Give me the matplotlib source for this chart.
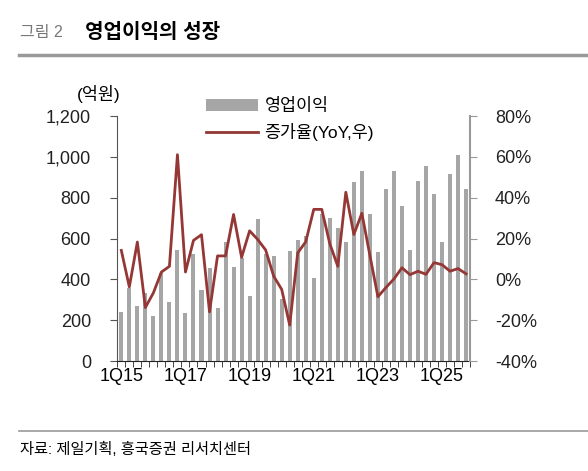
import numpy as np
import matplotlib.pyplot as plt

plt.rcParams['font.family'] = ['Liberation Sans', 'Noto Sans CJK KR', 'DejaVu Sans']

# quarterly data, 1Q15 - 4Q25
quarters = [f'{q}Q{y:02d}' for y in range(15, 26) for q in range(1, 5)]
op_profit = [240, 360, 270, 335, 223, 432, 288, 544, 233, 523, 350, 457,
             259, 581, 459, 503, 321, 694, 526, 514, 304, 537, 594, 611,
             409, 721, 702, 650, 584, 879, 931, 718, 532, 845, 933, 760,
             544, 881, 954, 820, 584, 918, 1008, 845]
yoy = [14.2, -3.7, 18.3, -13.8, -6.6, 3.6, 6.4, 61.1, 3.6, 19.1, 21.9, -15.9,
       11.5, 11.5, 31.8, 10.8, 23.8, 19.6, 14.4, 1.6, -4.9, -22.4, 13.0, 18.4,
       34.3, 34.3, 17.5, 6.4, 42.7, 22.0, 32.4, 11.8, -8.5, -4.0, 0.2, 5.7,
       2.3, 4.0, 2.5, 8.2, 7.2, 4.0, 5.3, 2.7]
label_quarters = ['1Q15', '1Q17', '1Q19', '1Q21', '1Q23', '1Q25']
left_ticks = [0, 200, 400, 600, 800, 1000, 1200]
right_ticks = [-40, -20, 0, 20, 40, 60, 80]

bar_color = '#a6a6a6'
line_color = '#953735'

fig = plt.figure(figsize=(5.88, 4.71), dpi=100)
ax = fig.add_axes([0.1995, 0.2335, 0.600, 0.520])
ax2 = ax.twinx()

x = np.arange(len(quarters))
bars = ax.bar(x, op_profit, width=0.5, color=bar_color, label='영업이익', zorder=2)
line, = ax2.plot(x, yoy, color=line_color, lw=2, label='증가율(YoY,우)', zorder=3)

ax.set_xlim(-0.5, len(quarters) - 0.5)
ax.set_ylim(0, 1200)
ax2.set_ylim(-40, 80)

ax.set_yticks(left_ticks)
ax.set_yticklabels([f'{v:,}' for v in left_ticks])
ax2.set_yticks(right_ticks)
ax2.set_yticklabels([f'{v}%' for v in right_ticks])

# category boundaries as ticks, labels every 8 quarters
ax.set_xticks(np.arange(-0.5, len(quarters)), minor=True)
ax.set_xticks([quarters.index(q) for q in label_quarters])
ax.set_xticklabels(label_quarters)
ax.tick_params(axis='x', which='major', length=0, pad=5, labelsize=13)
ax.tick_params(axis='x', which='minor', length=4, direction='out', color='#222222')
ax.tick_params(axis='y', length=5, pad=14, labelsize=13, colors='#222222', color='#555555')
ax2.tick_params(axis='y', length=5, pad=13, labelsize=13, colors='#222222', color='#999999')

for a in (ax, ax2):
    a.spines['top'].set_visible(False)
ax2.spines['left'].set_visible(False)
ax2.spines['bottom'].set_visible(False)
ax.spines['right'].set_visible(False)
ax.spines['left'].set_color('#555555')
ax.spines['bottom'].set_color('#222222')
ax2.spines['right'].set_color('#999999')
ax2.spines['right'].set_linewidth(1.5)

ax.text(-0.052, 1.09, '(억원)', transform=ax.transAxes, fontsize=12.5, ha='center', va='center')

fig.legend([bars, line], ['영업이익', '증가율(YoY,우)'], loc='upper left',
           bbox_to_anchor=(0.323, 0.825), frameon=False, fontsize=12.5,
           handlelength=3.0, handletextpad=0.4, labelspacing=0.5)

# header and footer
fig.text(0.034, 0.932, '그림 2', fontsize=11.5, color='#777777', va='center')
fig.text(0.145, 0.932, '영업이익의 성장', fontsize=14.5, fontweight='bold', va='center')
fig.add_artist(plt.Line2D([0.032, 1.0], [0.883, 0.883], color='#999999', lw=2.5))
fig.add_artist(plt.Line2D([0.032, 1.0], [0.085, 0.085], color='#999999', lw=1.2))
fig.text(0.034, 0.046, '자료: 제일기획, 흥국증권 리서치센터', fontsize=11, va='center')

plt.savefig('out.png', dpi=100)
